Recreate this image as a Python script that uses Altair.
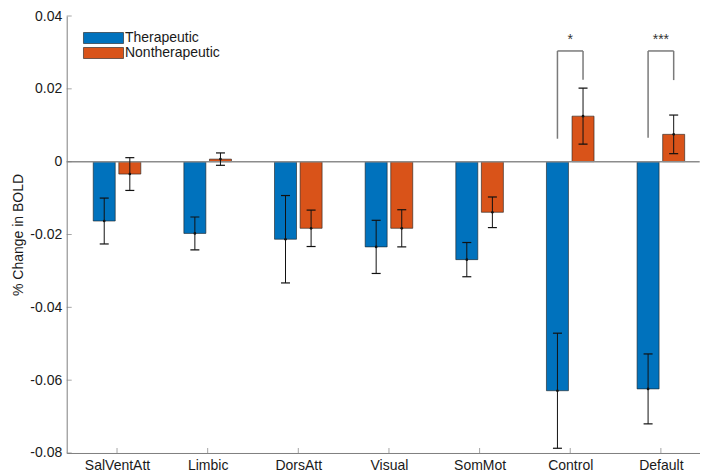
import altair as alt
import pandas as pd

# ---------------- data ----------------
categories = ["SalVentAtt", "Limbic", "DorsAtt", "Visual", "SomMot", "Control", "Default"]
series = ["Therapeutic", "Nontherapeutic"]
ther_mean = [-0.0163, -0.0197, -0.0213, -0.0234, -0.0269, -0.0629, -0.0624]
ther_err = [0.0063, 0.0045, 0.0120, 0.0073, 0.0047, 0.0158, 0.0096]
nonther_mean = [-0.0034, 0.0007, -0.0183, -0.0183, -0.0139, 0.0125, 0.0075]
nonther_err = [0.0045, 0.0017, 0.0050, 0.0051, 0.0042, 0.0077, 0.0053]
y_ticks = [-0.08, -0.06, -0.04, -0.02, 0, 0.02, 0.04]
sig_categories = ["Control", "Default"]
sig_labels = ["*", "***"]
sig_left_base = [0.0063, 0.0066]
sig_right_base = [0.0225, 0.0224]
sig_top = [0.0304, 0.0304]
sig_text_y = [0.0343, 0.0343]

colors = ["#0072BD", "#D95319"]

# ---------------- layout ----------------
PX_PER_CAT = 92.1
W, H = 633, 437
X_MIN = 0.5
X_MAX = 0.5 + W / PX_PER_CAT
OFF = 13 / PX_PER_CAT
AXIS_GRAY = "#808080"
FONT = "Liberation Sans"

rows = []
for i, c in enumerate(categories):
    rows.append(dict(idx=i + 1, cat=c, series=series[0], mean=ther_mean[i],
                     lo=ther_mean[i] - ther_err[i], hi=ther_mean[i] + ther_err[i]))
    rows.append(dict(idx=i + 1, cat=c, series=series[1], mean=nonther_mean[i],
                     lo=nonther_mean[i] - nonther_err[i], hi=nonther_mean[i] + nonther_err[i]))
df = pd.DataFrame(rows)

seg_rows = []
for k, c in enumerate(sig_categories):
    idx = categories.index(c) + 1
    seg_rows.append(dict(idx=idx, s1=-1, s2=-1, y1=sig_left_base[k], y2=sig_top[k]))
    seg_rows.append(dict(idx=idx, s1=-1, s2=1, y1=sig_top[k], y2=sig_top[k]))
    seg_rows.append(dict(idx=idx, s1=1, s2=1, y1=sig_top[k], y2=sig_right_base[k]))
seg_df = pd.DataFrame(seg_rows)
star_df = pd.DataFrame(dict(idx=[categories.index(c) + 1 for c in sig_categories],
                            label=sig_labels, y=sig_text_y))
ytick_df = pd.DataFrame(dict(v=y_ticks))
xtick_df = pd.DataFrame(dict(idx=list(range(1, len(categories) + 1))))
zero_df = pd.DataFrame(dict(v=[0]))

xscale = alt.Scale(domain=[X_MIN, X_MAX], nice=False, zero=False)
yscale = alt.Scale(domain=[-0.08, 0.04], nice=False, zero=False)

label_expr_x = "[" + ",".join("'" + c + "'" for c in categories) + "][datum.value - 1]"

base = alt.Chart(df).transform_calculate(
    pos=f"datum.idx + (datum.series == '{series[0]}' ? {-OFF} : {OFF})"
)

bars = base.mark_bar(orient="vertical", size=22, stroke="#1f1f1f", strokeWidth=0.6).encode(
    x=alt.X("pos:Q", scale=xscale,
            axis=alt.Axis(values=list(range(1, len(categories) + 1)), labelExpr=label_expr_x,
                          title=None, grid=False, tickSize=0, labelPadding=6,
                          domainColor=AXIS_GRAY, labelFontSize=14, labelColor="#1a1a1a",
                          labelFont=FONT)),
    y=alt.Y("mean:Q", scale=yscale,
            axis=alt.Axis(values=y_ticks, title="% Change in BOLD", grid=False, tickSize=0,
                          labelExpr="replace(format(datum.value, '~g'), '\u2212', '-')",
                          labelPadding=5, titlePadding=4, domainColor=AXIS_GRAY,
                          labelFontSize=14, titleFontSize=14, titleFontWeight="normal",
                          labelColor="#1a1a1a", titleColor="#1a1a1a",
                          labelFont=FONT, titleFont=FONT)),
    y2=alt.datum(0),
    color=alt.Color("series:N", scale=alt.Scale(domain=series, range=colors),
                    legend=alt.Legend(orient="none", legendX=29.8, legendY=15, title=None,
                                      symbolType="M-3.64,-1L3.64,-1L3.64,1L-3.64,1Z",
                                      symbolSize=121, symbolStrokeColor="#1f1f1f",
                                      symbolStrokeWidth=0.6, symbolOpacity=1,
                                      labelFontSize=14, labelFont=FONT, labelColor="#1a1a1a",
                                      labelOffset=14.5, rowPadding=1, padding=0)),
)

zero_line = alt.Chart(zero_df).mark_rule(color="#8c8c8c", strokeWidth=1.5).encode(
    y=alt.Y("v:Q", scale=yscale)
)

err_rule = base.mark_rule(color="#111111", strokeWidth=1).encode(
    x=alt.X("pos:Q", scale=xscale), y=alt.Y("lo:Q", scale=yscale), y2="hi:Q"
)
err_caps = base.transform_fold(["lo", "hi"], as_=["end", "val"]).mark_tick(
    orient="horizontal", size=9, thickness=1.2, color="#111111", opacity=1
).encode(x=alt.X("pos:Q", scale=xscale), y=alt.Y("val:Q", scale=yscale))
err_dot = base.mark_point(filled=True, size=7, color="#111111", opacity=1).encode(
    x=alt.X("pos:Q", scale=xscale), y=alt.Y("mean:Q", scale=yscale)
)

yticks = alt.Chart(ytick_df).mark_tick(orient="horizontal", size=5, thickness=1,
                                       color=AXIS_GRAY).encode(
    x=alt.value(2.5), y=alt.Y("v:Q", scale=yscale)
)
xticks = alt.Chart(xtick_df).mark_tick(orient="vertical", size=5, thickness=1,
                                       color=AXIS_GRAY).encode(
    x=alt.X("idx:Q", scale=xscale), y=alt.value(H - 2.5)
)

brackets = alt.Chart(seg_df).transform_calculate(
    xa=f"datum.idx + datum.s1 * {OFF}", xb=f"datum.idx + datum.s2 * {OFF}"
).mark_rule(color="#7a7a7a", strokeWidth=1.5).encode(
    x=alt.X("xa:Q", scale=xscale), x2="xb:Q",
    y=alt.Y("y1:Q", scale=yscale), y2="y2:Q"
)
stars = alt.Chart(star_df).mark_text(fontSize=14, font=FONT, color="#333333",
                                     baseline="middle", dy=3).encode(
    x=alt.X("idx:Q", scale=xscale), y=alt.Y("y:Q", scale=yscale), text="label:N"
)

chart = alt.layer(
    bars, zero_line, err_rule, err_caps, err_dot, yticks, xticks, brackets, stars
).properties(
    width=W, height=H,
    background="white",
    autosize=alt.AutoSizeParams(type="none"),
    padding={"left": 58.7, "top": 8, "right": 0, "bottom": 30},
).configure_view(stroke=None)

chart.save("out.html", embed_options={"renderer": "svg", "actions": False})
